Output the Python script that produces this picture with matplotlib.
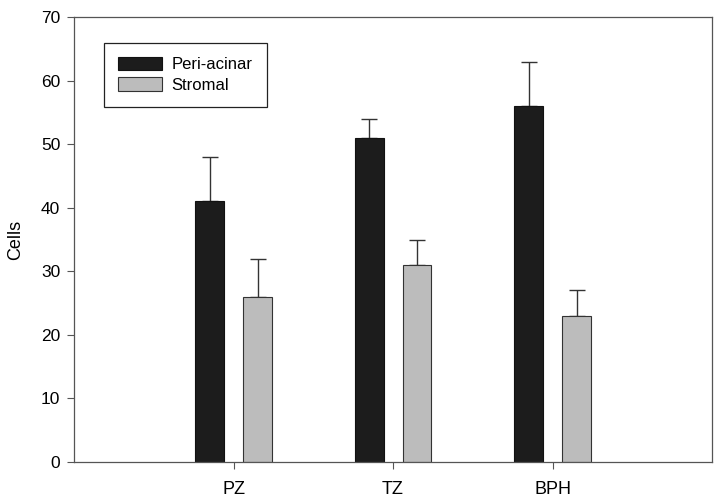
import matplotlib
matplotlib.use('Agg')
import matplotlib.pyplot as plt
import numpy as np

plt.rcParams['font.family'] = ['Liberation Sans', 'DejaVu Sans']

# data
groups = ['PZ', 'TZ', 'BPH']
peri = [41, 51, 56]
peri_err = [7, 3, 7]
stromal = [26, 31, 23]
stromal_err = [6, 4, 4]

fig = plt.figure(figsize=(7.2, 5), dpi=100)
ax = fig.add_axes([0.103, 0.076, 0.886, 0.89])

x = np.arange(1, len(groups) + 1)
w = 0.18
off = 0.15
ax.bar(x - off, peri, w, color='#1c1c1c', edgecolor='#111111', linewidth=0.8,
       label='Peri-acinar', zorder=2)
ax.bar(x + off, stromal, w, color='#bcbcbc', edgecolor='#333333', linewidth=0.8,
       label='Stromal', zorder=2)
ax.errorbar(x - off, peri, yerr=[np.zeros(3), peri_err], fmt='none',
            ecolor='#333333', elinewidth=1, capsize=6, capthick=1, zorder=1)
ax.errorbar(x + off, stromal, yerr=[np.zeros(3), stromal_err], fmt='none',
            ecolor='#333333', elinewidth=1, capsize=6, capthick=1, zorder=1)

ax.set_xlim(0, 4)
ax.set_ylim(0, 70)
ax.set_xticks(x)
ax.set_xticklabels(groups, fontsize=13)
ax.set_yticks(range(0, 71, 10))
ax.tick_params(axis='y', labelsize=12.5, direction='out', length=5, pad=5, color='#555555')
ax.tick_params(axis='x', direction='out', length=5, pad=9, color='#555555')
for s in ax.spines.values():
    s.set_color('#555555')
    s.set_linewidth(0.9)
ax.set_ylabel('Cells', fontsize=13, labelpad=12)

leg = ax.legend(loc='upper left', bbox_to_anchor=(0.047, 0.942), fontsize=12,
                fancybox=False, edgecolor='#222222', framealpha=1,
                handlelength=2.6, handleheight=0.85, borderpad=0.85,
                labelspacing=0.3, handletextpad=0.6, borderaxespad=0)
leg.get_frame().set_linewidth(0.9)

fig.savefig('out.png', dpi=100)
